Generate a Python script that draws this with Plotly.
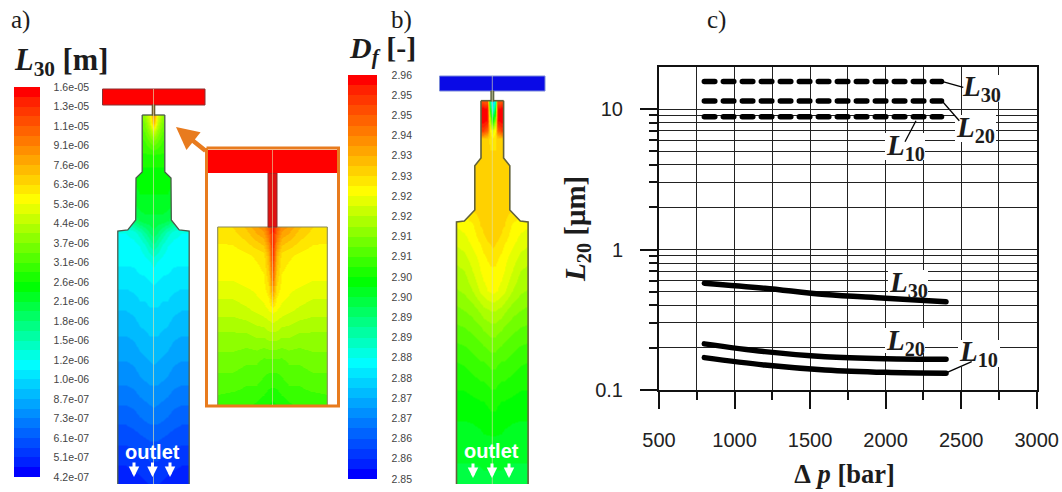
import plotly.graph_objects as go

# ---------- chart c data ----------
DP_DASHED = [800, 1200, 1600, 2000, 2370]
L30_DROPLET = [15.7, 15.7, 15.7, 15.7, 15.7]
L20_DROPLET = [11.4, 11.4, 11.4, 11.4, 11.4]
L10_DROPLET = [8.8, 8.8, 8.8, 8.8, 8.8]
DP_SOLID = [800, 1200, 1600, 2000, 2400]
L30_FRACTAL = [0.576, 0.53, 0.478, 0.45, 0.424]
L20_FRACTAL = [0.213, 0.1875, 0.1726, 0.167, 0.1656]
L10_FRACTAL = [0.170, 0.1507, 0.139, 0.1336, 0.1315]
X_TICKS = [500, 1000, 1500, 2000, 2500, 3000]
X_MINOR = [750, 1250, 1750, 2250, 2750]
Y_TICKS = [0.1, 1, 10]
Y_TICK_TEXT = ["0.1", "1", "10"]
Y_MINOR = [0.2, 0.3, 0.4, 0.5, 0.6, 0.7, 0.8, 0.9, 2, 3, 4, 5, 6, 7, 8, 9]

# ---------- colour bars ----------
L30_LABELS = ["4.2e-07", "5.1e-07", "6.1e-07", "7.3e-07", "8.7e-07", "1.0e-06", "1.2e-06",
              "1.5e-06", "1.8e-06", "2.1e-06", "2.6e-06", "3.1e-06", "3.7e-06", "4.4e-06",
              "5.3e-06", "6.3e-06", "7.6e-06", "9.1e-06", "1.1e-05", "1.3e-05", "1.6e-05"]
DF_LABELS = ["2.85", "2.86", "2.86", "2.87", "2.87", "2.88", "2.88", "2.89", "2.89", "2.90",
             "2.90", "2.91", "2.91", "2.92", "2.92", "2.93", "2.93", "2.94", "2.95", "2.95", "2.96"]
LEVEL_TICKS = [i / 20 for i in range(21)]
HUE_STOPS = [(0.0, (0, 0, 255)), (0.29, (0, 255, 255)), (0.49, (0, 255, 0)),
             (0.71, (255, 255, 0)), (1.0, (255, 0, 0))]
N_BANDS = 40

# ---------- panel a field (colour-bar level, half section) ----------
A_DX = [0, 4, 9, 14, 20, 28, 38]
A_Y = [115, 122, 130, 140, 155, 172, 200, 220, 232, 245, 260, 280, 300, 320, 340, 360, 380, 400, 420, 440, 460, 484]
A_LEVEL = [
    [.84, .68, .62, .60, .58, .56, .54],
    [.80, .66, .60, .58, .56, .54, .52],
    [.68, .62, .58, .56, .55, .53, .52],
    [.60, .58, .55, .54, .53, .52, .51],
    [.52, .52, .52, .52, .51, .50, .50],
    [.49, .49, .49, .49, .48, .48, .48],
    [.47, .47, .47, .47, .46, .46, .46],
    [.44, .44, .44, .43, .40, .36, .34],
    [.42, .40, .37, .34, .31, .30, .30],
    [.37, .35, .32, .30, .29, .29, .29],
    [.31, .30, .29, .285, .28, .28, .28],
    [.28, .275, .27, .27, .265, .26, .26],
    [.255, .255, .25, .25, .24, .235, .235],
    [.24, .24, .235, .23, .22, .215, .215],
    [.22, .22, .215, .21, .20, .195, .195],
    [.205, .20, .195, .19, .18, .175, .175],
    [.18, .18, .175, .17, .16, .155, .155],
    [.16, .155, .15, .145, .135, .13, .13],
    [.13, .13, .125, .12, .11, .105, .105],
    [.10, .10, .095, .09, .085, .08, .08],
    [.075, .075, .07, .065, .06, .055, .055],
    [.05, .05, .045, .04, .035, .03, .03],
]
A_PROFILE_Y = [115, 172, 178, 220, 230, 231, 484]
A_PROFILE_HALF = [11.3, 11.3, 17.5, 17.8, 25.7, 35.7, 35.7]

# ---------- panel b field ----------
B_DX = [0, 2.5, 5, 9, 12, 20, 28, 38]
B_Y = [101, 108, 120, 130, 138, 150, 210, 225, 240, 255, 270, 290, 310, 330, 360, 400, 440, 484]
B_LEVEL = [
    [.22, .35, .90, .90, .90, .76, .76, .76],
    [.27, .45, .97, .99, .99, .76, .76, .76],
    [.48, .62, .97, .99, .99, .76, .76, .76],
    [.68, .72, .88, .93, .93, .76, .76, .76],
    [.73, .74, .76, .77, .77, .76, .76, .76],
    [.75, .75, .76, .76, .76, .76, .76, .76],
    [.76, .76, .76, .76, .76, .75, .73, .72],
    [.76, .76, .76, .755, .75, .72, .71, .70],
    [.76, .755, .75, .745, .73, .71, .69, .68],
    [.74, .735, .73, .72, .71, .69, .67, .66],
    [.72, .72, .715, .71, .70, .675, .65, .64],
    [.71, .705, .70, .69, .68, .65, .63, .62],
    [.65, .65, .645, .64, .63, .61, .60, .59],
    [.61, .61, .605, .60, .59, .58, .57, .565],
    [.56, .56, .555, .55, .55, .54, .53, .525],
    [.51, .51, .505, .50, .50, .495, .49, .49],
    [.47, .47, .47, .47, .465, .46, .46, .46],
    [.44, .44, .44, .44, .44, .44, .44, .44],
]
B_PROFILE_Y = [100.7, 158, 165.7, 210, 221, 222, 484]
B_PROFILE_HALF = [11.3, 11.3, 17.5, 17.5, 28, 35.8, 35.8]

# ---------- inset field ----------
I_DX = [0, 4, 9, 16, 26, 40, 56]
I_Y = [227, 255, 280, 295, 310, 335, 360, 385, 405]
I_LEVEL = [
    [.98, .90, .84, .82, .78, .75, .745],
    [.95, .80, .74, .73, .72, .71, .71],
    [.88, .76, .72, .71, .71, .70, .70],
    [.80, .73, .71, .70, .69, .68, .68],
    [.71, .70, .69, .68, .67, .66, .66],
    [.64, .64, .63, .63, .62, .62, .62],
    [.57, .57, .57, .58, .58, .59, .59],
    [.53, .53, .54, .55, .55, .56, .56],
    [.49, .50, .51, .52, .53, .53, .54],
]
I_PROFILE_Y = [227, 405]
I_PROFILE_HALF = [54.8, 54.8]


def band_scale():
    def colour(t):
        for (a, ca), (b, cb) in zip(HUE_STOPS, HUE_STOPS[1:]):
            if t <= b:
                f = (t - a) / (b - a)
                return tuple(round(p + (q - p) * f) for p, q in zip(ca, cb))
        return HUE_STOPS[-1][1]
    scale = []
    for i in range(N_BANDS):
        c = colour((i + 0.5) / N_BANDS if 0 < i < N_BANDS - 1 else i / (N_BANDS - 1))
        rgb = f"rgb{c}".replace(" ", "")
        scale += [[i / N_BANDS, rgb], [(i + 1) / N_BANDS, rgb]]
    return scale


SCALE = band_scale()
EDGE = "#62623a"
ORANGE = "#e87b1e"
SERIF = "Liberation Serif"
SANS = "Liberation Sans"
TXT = "#1c1c1c"
C_LEFT, C_RIGHT, C_TOP, C_BOTTOM = 659, 1036.7, 66.7, 390
X_RANGE = [500, 3000]
Y_LOG_RANGE = [-1, 1.30103]

fig = go.Figure()


def px(v):
    return v / 1062


def py(v):
    return 1 - v / 492


def chart_x(v):
    return X_RANGE[0] + (v - C_LEFT) / (C_RIGHT - C_LEFT) * (X_RANGE[1] - X_RANGE[0])


def chart_y(v):
    f = (C_BOTTOM - v) / (C_BOTTOM - C_TOP)
    return 10 ** (Y_LOG_RANGE[0] + f * (Y_LOG_RANGE[1] - Y_LOG_RANGE[0]))


def colorbar(x, top, bottom, thick, labels, lab_gap):
    return dict(x=px(x), xanchor="left", y=py(top), yanchor="top", len=(bottom - top) / 492,
                lenmode="fraction", thickness=thick, thicknessmode="pixels", outlinewidth=0,
                xpad=0, ypad=0, ticks="outside", ticklen=lab_gap, tickcolor="rgba(0,0,0,0)",
                tickvals=LEVEL_TICKS, ticktext=labels, tickmode="array",
                tickfont=dict(family=SANS, size=10.5, color="#444444"))


def field(cx, dx, ys, table, axis):
    xs = [cx - d for d in reversed(dx[1:])] + [cx + d for d in dx]
    z = [list(reversed(row[1:])) + row for row in table]
    fig.add_trace(go.Heatmap(x=xs, y=ys, z=z, coloraxis=axis, zsmooth="best", hoverinfo="skip",
                             xaxis="x", yaxis="y"))


def poly(xs, ys, fill, line=None, width=0):
    fig.add_trace(go.Scatter(x=xs, y=ys, mode="lines", fill="toself", fillcolor=fill,
                             line=dict(color=line or fill, width=width), hoverinfo="skip",
                             showlegend=False, xaxis="x", yaxis="y"))


def nozzle(cx, prof_y, prof_half, outer, top_pad, bot_pad, edge=EDGE, width=1.6):
    top, bot = prof_y[0], prof_y[-1]
    up, down = top - top_pad, bot + bot_pad
    h0, h1 = prof_half[0], prof_half[-1]
    # white masks outside the wall and past the ends of the field (they overlap, so no seams)
    for s in (-1, 1):
        poly([cx + s * h0] + [cx + s * h for h in prof_half] + [cx + s * h1, cx + s * outer, cx + s * outer],
             [up] + prof_y + [down, down, up], "white")
    poly([cx - outer, cx + outer, cx + outer, cx - outer], [bot, bot, down, down], "white")
    poly([cx - h0 - 1, cx + h0 + 1, cx + h0 + 1, cx - h0 - 1], [top, top, up, up], "white")
    # wall
    for s in (-1, 1):
        fig.add_trace(go.Scatter(x=[cx + s * h for h in prof_half], y=prof_y, mode="lines",
                                 line=dict(color=edge, width=width), hoverinfo="skip",
                                 showlegend=False, xaxis="x", yaxis="y"))
    fig.add_trace(go.Scatter(x=[cx - prof_half[0], cx + prof_half[0]], y=[top, top], mode="lines",
                             line=dict(color=edge, width=width), hoverinfo="skip",
                             showlegend=False, xaxis="x", yaxis="y"))


def rect(x0, x1, y0, y1, fill, line=None, width=0):
    poly([x0, x1, x1, x0, x0], [y0, y0, y1, y1, y0], fill, line, width)


def axis_line(x0, x1, y0, y1, colour, width):
    fig.add_shape(type="line", x0=x0, x1=x1, y0=y0, y1=y1, xref="x", yref="y",
                  line=dict(color=colour, width=width), layer="above")


# ---- panel a ----
field(153.5, A_DX, A_Y, A_LEVEL, "coloraxis")
nozzle(153.5, A_PROFILE_Y, A_PROFILE_HALF, 50, 10, 14, edge="#4a5a4a", width=1.3)
rect(102.5, 205, 89, 105, "#ff0000", "#8a3030", 1)
rect(152, 155, 105, 115, "#7a5a2a", "#5a5a30", 0.6)
axis_line(153.5, 153.5, 89, 484, "rgba(225,225,170,0.65)", 1)

# ---- inset ----
field(272.5, I_DX, I_Y, I_LEVEL, "coloraxis")
nozzle(272.5, I_PROFILE_Y, I_PROFILE_HALF, 65.5, 16, 12, edge="#8a8a5a", width=1.1)
rect(268, 277, 173, 227, "#e01212", "#8a2a2a", 1)
rect(208, 337, 150, 173, "#ff0000")
axis_line(272.5, 272.5, 150, 405, "rgba(225,225,170,0.6)", 1)
rect(206.5, 338.5, 148, 406, "rgba(0,0,0,0)", ORANGE, 3)

# ---- panel b ----
field(492.3, B_DX, B_Y, B_LEVEL, "coloraxis2")
nozzle(492.3, B_PROFILE_Y, B_PROFILE_HALF, 50, 9, 14)
rect(439.5, 545, 76, 91, "#0a0ae6", "#7a8ad8", 1)
rect(490.7, 494, 91, 101, "#5f6a4a", "#5a5a30", 0.6)
axis_line(492.3, 492.3, 76, 484, "rgba(225,225,170,0.65)", 1)

# ---- chart c ----
for name, ys in (("L30", L30_DROPLET), ("L20", L20_DROPLET), ("L10", L10_DROPLET)):
    fig.add_trace(go.Scatter(x=DP_DASHED, y=ys, mode="lines", name=name, showlegend=False,
                             line=dict(color="black", width=5.5, dash="10.5px,8.5px"),
                             xaxis="x2", yaxis="y2"))
for name, ys in (("L30", L30_FRACTAL), ("L20", L20_FRACTAL), ("L10", L10_FRACTAL)):
    fig.add_trace(go.Scatter(x=DP_SOLID, y=ys, mode="lines", name=name, showlegend=False,
                             line=dict(color="black", width=5.5, shape="spline"),
                             xaxis="x2", yaxis="y2"))

# white plates behind the curve labels: over the grid, under the curves
for x0, x1, y0, y1 in ((962, 1001, 75, 101.7), (955, 996, 115, 142), (885, 925, 133, 160),
                       (888, 928, 270, 296.7), (885, 925, 328, 353), (958, 1000, 340, 367)):
    fig.add_shape(type="rect", xref="x2", yref="y2", x0=chart_x(x0), x1=chart_x(x1),
                  y0=chart_y(y0), y1=chart_y(y1), fillcolor="white", line_width=0, layer="between")

# leaders
axis_line(942.7, 963.3, 81.7, 87.3, "black", 1.3)
axis_line(942.7, 959.3, 101.7, 120.7, "black", 1.3)
axis_line(916, 905, 120.7, 141.7, "black", 1.3)
axis_line(946.7, 971.7, 372.7, 361.7, "black", 1.3)

annos = []


def text(x, y, s, size, family=SERIF, colour=TXT, anchor="center"):
    annos.append(dict(x=x, y=y, xref="x", yref="y", text=s, showarrow=False, xanchor=anchor,
                      yanchor="middle", font=dict(family=family, size=size, color=colour)))


def arrow(x0, y0, x1, y1, colour, width, size):
    annos.append(dict(x=x1, y=y1, ax=x0, ay=y0, xref="x", yref="y", axref="x", ayref="y", text="",
                      showarrow=True, arrowhead=2, arrowsize=size, arrowwidth=width,
                      arrowcolor=colour))


text(20, 20, "a)", 25, anchor="center")
text(401, 20, "b)", 25, anchor="center")
text(716, 20, "c)", 25, anchor="center")
text(12, 62, "<b><i>L</i><sub>30</sub> [m]</b>", 30.5, anchor="left")
text(347, 50, "<b><i>D<sub>f</sub></i> [-]</b>", 30, anchor="left")

for x, y, s in ((981.7, 88, "30"), (975, 129, "20"), (905, 147, "10"),
                (908.3, 284, "30"), (905, 342, "20"), (978.3, 353, "10")):
    text(x, y, f"<b><i>L</i><sub>{s}</sub></b>", 29)

text(152, 452, "<b>outlet</b>", 20, family=SANS, colour="white")
text(491, 451, "<b>outlet</b>", 20, family=SANS, colour="white")
for x in (134, 152.5, 170):
    arrow(x, 461, x, 477, "white", 3, 0.7)
for x in (473, 492, 509):
    arrow(x, 462, x, 478, "white", 3, 0.7)
arrow(207, 152, 176, 127, ORANGE, 4.5, 1.0)

fig.update_layout(
    width=1062, height=492, margin=dict(l=0, r=0, t=0, b=0, autoexpand=False),
    paper_bgcolor="white", plot_bgcolor="rgba(0,0,0,0)", showlegend=False,
    xaxis=dict(range=[0, 1062], domain=[0, 1], visible=False, fixedrange=True),
    yaxis=dict(range=[492, 0], domain=[0, 1], visible=False, fixedrange=True),
    xaxis2=dict(domain=[px(C_LEFT), px(C_RIGHT)], range=X_RANGE, anchor="y2",
                tickvals=X_TICKS, ticks="outside", ticklen=17, tickwidth=2, tickcolor="#111",
                ticklabelstandoff=14, showline=True, mirror=True, linewidth=2, linecolor="#111",
                showgrid=True, gridcolor="#222", gridwidth=1, zeroline=False,
                tickfont=dict(family=SANS, size=20, color="#222"),
                minor=dict(tickvals=X_MINOR, ticks="outside", ticklen=8, tickwidth=2, tickcolor="#111",
                           showgrid=True, gridcolor="#222", gridwidth=1),
                title=dict(text="<b>Δ&#160;<i>p</i> [bar]</b>&#160;", standoff=14,
                           font=dict(family=SERIF, size=26.5, color=TXT))),
    yaxis2=dict(domain=[py(C_BOTTOM), py(C_TOP)], type="log", range=Y_LOG_RANGE, anchor="x2",
                tickvals=Y_TICKS, ticktext=Y_TICK_TEXT, ticks="outside", ticklen=17, tickwidth=2,
                tickcolor="#111", ticklabelstandoff=13, showline=True, mirror=True, linewidth=2,
                linecolor="#111", showgrid=True, gridcolor="#222", gridwidth=1, zeroline=False,
                tickfont=dict(family=SANS, size=20, color="#222"),
                minor=dict(tickvals=Y_MINOR, ticks="outside", ticklen=8, tickwidth=2, tickcolor="#111",
                           showgrid=True, gridcolor="#222", gridwidth=1),
                title=dict(text="<b><i>L</i><sub>20</sub> [μm]</b>", standoff=1,
                           font=dict(family=SERIF, size=29, color=TXT))),
    coloraxis=dict(cmin=0, cmax=1, colorscale=SCALE,
                   colorbar=colorbar(14, 87.3, 477.7, 26, L30_LABELS, 12)),
    coloraxis2=dict(cmin=0, cmax=1, colorscale=SCALE,
                    colorbar=colorbar(347.7, 75, 479, 29, DF_LABELS, 13)),
    annotations=annos,
)

CAPS = ("function caps(){document.querySelectorAll('.x2y2 .js-line').forEach("
        "function(p){p.style.strokeLinecap='round';});}"
        "caps();setTimeout(caps,50);")
fig.write_html("out.html", config=dict(displayModeBar=False),
               post_script="document.body.style.margin='0';document.body.style.overflow='hidden';" + CAPS)
